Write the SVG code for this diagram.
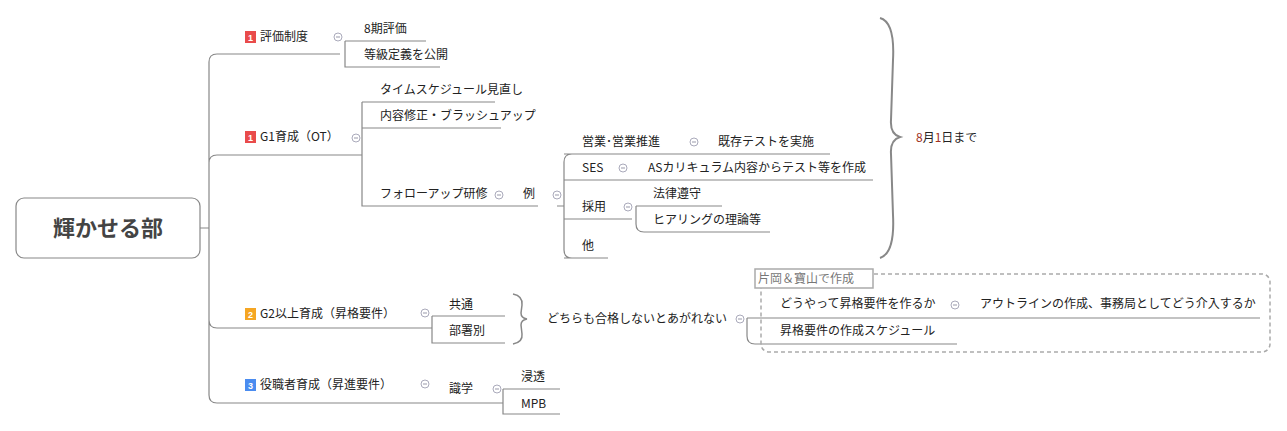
<svg xmlns="http://www.w3.org/2000/svg" width="1287" height="431" viewBox="0 0 1287 431">
<style>
text{font-family:"Noto Sans CJK JP","Liberation Sans",sans-serif;font-size:12px;fill:#222}
.l{fill:none;stroke:#888;stroke-width:1.2}
.c{fill:#fff;stroke:#aab;stroke-width:1}
.b{font-size:9px;fill:#fff;font-weight:bold;font-family:"Liberation Sans",sans-serif}
</style>
<defs><g id="m"><circle class="c" r="4"/><path d="M-2 0H2" stroke="#99a" stroke-width="1"/></g></defs>
<rect width="1287" height="431" fill="#fff"/>
<g id="connectors">
<path class="l" d="M200 228H209M217 54H340M209 62Q209 54 217 54M209 163Q209 155 217 155H362M209 62V395Q209 403 217 403H503M209 320Q209 328 217 328H432"/>
<path class="l" d="M345 41H426M345 41V67H440"/>
<path class="l" d="M362 102H495M362 128H501M362 102V206H538"/>
<path class="l" d="M564 154H830M564 180H873M564 219H632M564 258H608M572 154Q564 154 564 162V250Q564 258 572 258M557 206H564"/>
<path class="l" d="M636 206H722M636 206V224Q636 232 644 232H770"/>
<path class="l" d="M432 316H505M432 316V343H505"/>
<path class="l" d="M747 318H1260M747 318V336Q747 344 755 344H957"/>
<path class="l" d="M503 389H560M503 389V414H560"/>
<path d="M880 18Q895 22 893 60L891 120Q890 134 900 137Q890 140 891 154L893 215Q895 253 880 258" fill="none" stroke="#888" stroke-width="2"/>
<path d="M513 294Q523 296 522 305L521 313Q521 318 527 319Q521 320 521 325L522 334Q523 342 513 344" fill="none" stroke="#888" stroke-width="1.5"/>
<rect x="761" y="274" width="509" height="78" rx="8" fill="none" stroke="#aaa" stroke-width="1.5" stroke-dasharray="4 3"/>
</g>
<g id="root"><rect x="16" y="198" width="184" height="60" rx="8" fill="#fff" stroke="#888" stroke-width="1.2"/><text x="108" y="236" text-anchor="middle" style="font-size:22px;font-weight:bold;fill:#444">輝かせる部</text></g>
<g id="n1"><rect x="245" y="31" width="11" height="12" fill="#e94b4b"/><text class="b" x="248" y="41">1</text><text x="260" y="41">評価制度</text><use href="#m" x="338" y="37"/></g>
<g id="n1a"><text x="364" y="33">8期評価</text></g>
<g id="n1b"><text x="364" y="59">等級定義を公開</text></g>
<g id="n2"><rect x="245" y="131" width="11" height="12" fill="#e94b4b"/><text class="b" x="248" y="141">1</text><text x="260" y="141">G1育成（OT）</text><use href="#m" x="356" y="138"/></g>
<g id="n2a"><text x="380" y="94">タイムスケジュール見直し</text></g>
<g id="n2b"><text x="380" y="120">内容修正・ブラッシュアップ</text></g>
<g id="n2c"><text x="380" y="198">フォローアップ研修</text><use href="#m" x="499" y="195"/></g>
<g id="n2d"><text x="523" y="198">例</text><use href="#m" x="557" y="195"/></g>
<g id="n3"><text x="582" y="146">営業･営業推進</text><use href="#m" x="694" y="142"/></g>
<g id="n3a"><text x="718" y="146">既存テストを実施</text></g>
<g id="n4"><text x="582" y="172">SES</text><use href="#m" x="623" y="168"/></g>
<g id="n4a"><text x="648" y="172">ASカリキュラム内容からテスト等を作成</text></g>
<g id="n5"><text x="582" y="211">採用</text><use href="#m" x="628" y="207"/></g>
<g id="n5a"><text x="653" y="198">法律遵守</text></g>
<g id="n5b"><text x="653" y="224">ヒアリングの理論等</text></g>
<g id="n6"><text x="582" y="250">他</text></g>
<g id="n7"><text x="916" y="142"><tspan fill="#a03020">8</tspan>月<tspan fill="#a03020">1</tspan>日まで</text></g>
<g id="n8"><rect x="245" y="308" width="11" height="12" fill="#f5a623"/><text class="b" x="248" y="318">2</text><text x="260" y="318">G2以上育成（昇格要件）</text><use href="#m" x="425" y="313"/></g>
<g id="n8a"><text x="449" y="309">共通</text></g>
<g id="n8b"><text x="449" y="335">部署別</text></g>
<g id="n9"><text x="547" y="323">どちらも合格しないとあがれない</text><use href="#m" x="740" y="319"/></g>
<g id="n10"><text x="780" y="308">どうやって昇格要件を作るか</text><use href="#m" x="955" y="305"/></g>
<g id="n10a"><text x="980" y="308">アウトラインの作成、事務局としてどう介入するか</text></g>
<g id="n11"><text x="780" y="335">昇格要件の作成スケジュール</text></g>
<g id="label"><rect x="755" y="269" width="118" height="19" fill="#fff" stroke="#aaa" stroke-width="1.5"/><text x="758" y="283" style="fill:#777">片岡＆寶山で作成</text></g>
<g id="n12"><rect x="245" y="379" width="11" height="12" fill="#4a8cf0"/><text class="b" x="248" y="389">3</text><text x="260" y="389">役職者育成（昇進要件）</text><use href="#m" x="425" y="384"/></g>
<g id="n12a"><text x="449" y="393">識学</text><use href="#m" x="497" y="389"/></g>
<g id="n12b"><text x="521" y="381">浸透</text></g>
<g id="n12c"><text x="521" y="408">MPB</text></g>
</svg>
